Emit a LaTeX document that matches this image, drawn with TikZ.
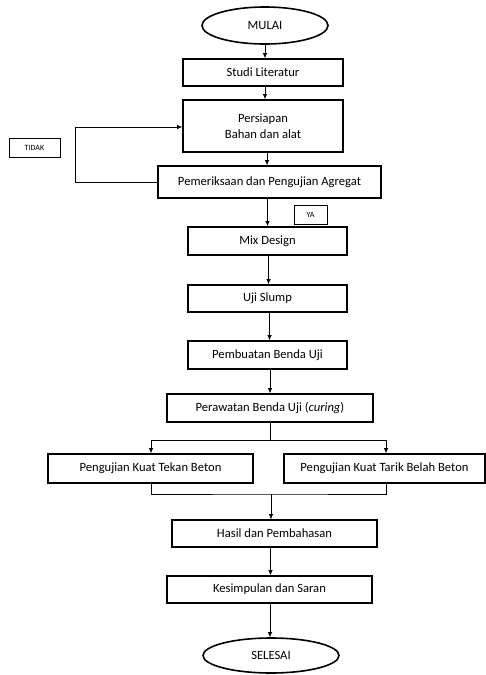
\documentclass[tikz,border=0pt]{standalone}
\usepackage{fontspec}
\setmainfont{Carlito}
\usetikzlibrary{arrows.meta,shapes.geometric}
\begin{document}
\begin{tikzpicture}[x=1pt,y=-1pt,
  box/.style={draw,line width=1.6pt,minimum height=27pt,inner sep=0pt,font=\fontsize{12.6}{14}\selectfont,align=center},
  term/.style={draw,ellipse,line width=1.6pt,inner sep=0pt,font=\fontsize{12.6}{14}\selectfont},
  tag/.style={draw,line width=0.6pt,inner sep=0pt,font=\fontsize{8}{9}\selectfont},
  conn/.style={line width=0.7pt},
  arr/.style={conn,-{Latex[length=5pt,width=4.5pt]}}]
\useasboundingbox (0,0) rectangle (486,675);
\node[term,minimum width=126pt,minimum height=37pt] (mulai) at (265,25.5) {MULAI};
\node[box,minimum width=160pt] (studi) at (263,72.5) {Studi Literatur};
\node[box,minimum width=160pt,minimum height=52pt] (persiapan) at (263,126) {Persiapan\\[2pt]Bahan dan alat};
\node[box,minimum width=223pt,minimum height=32pt] (periksa) at (269.5,182) {Pemeriksaan dan Pengujian Agregat};
\node[tag,minimum width=51pt,minimum height=19pt] (tidak) at (34.5,147.5) {TIDAK};
\node[tag,minimum width=33pt,minimum height=19pt] (ya) at (310.5,214.5) {YA};
\node[box,minimum width=159pt,minimum height=28pt] (mix) at (267.5,241) {Mix Design};
\node[box,minimum width=159pt] (slump) at (267.5,298.5) {Uji Slump};
\node[box,minimum width=159pt,minimum height=28pt] (buat) at (267.5,355) {Pembuatan Benda Uji};
\node[box,minimum width=206pt,minimum height=28pt] (rawat) at (270,408) {Perawatan Benda Uji (\textit{curing})};
\node[box,minimum width=205pt,minimum height=29pt] (tekan) at (150.5,468.5) {Pengujian Kuat Tekan Beton};
\node[box,minimum width=201pt,minimum height=29pt] (tarik) at (384.5,468.5) {Pengujian Kuat Tarik Belah Beton};
\node[box,minimum width=205pt] (hasil) at (274.5,533.5) {Hasil dan Pembahasan};
\node[box,minimum width=205pt] (simpul) at (269.5,589.5) {Kesimpulan dan Saran};
\node[term,minimum width=136pt,minimum height=35pt] (selesai) at (271,655.5) {SELESAI};
\coordinate (br) at (270,440);
\coordinate (mg) at (271,494);
\draw[arr] (mulai.south) -- (mulai.south |- studi.north);
\draw[arr] (mulai.south |- studi.south) -- (mulai.south |- persiapan.north);
\draw[arr] ([xshift=4pt]persiapan.south) -- ([xshift=4pt]persiapan.south |- periksa.north);
\draw[arr] (periksa.west) -- ++(-82,0) |- ([yshift=-1pt]persiapan.west);
\draw[arr] (mix.north |- periksa.south) -- (mix.north);
\draw[arr] ([xshift=1pt]mix.south) -- ([xshift=1pt]slump.north);
\draw[arr] ([xshift=2pt]slump.south) -- ([xshift=2pt]buat.north);
\draw[arr] (rawat.north |- buat.south) -- (rawat.north);
\draw[conn] (rawat.south) -- (br);
\draw[arr] (br) -| ([xshift=0.5pt]tekan.north);
\draw[arr] (br) -| ([xshift=1.5pt]tarik.north);
\draw[conn] ([xshift=0.5pt]tekan.south) |- (mg) -| ([xshift=1.5pt]tarik.south);
\draw[arr] (mg) -- (mg |- hasil.north);
\draw[arr] ([xshift=-4pt]hasil.south) -- ([xshift=-4pt]hasil.south |- simpul.north);
\draw[arr] ([xshift=0.5pt]simpul.south) -- ([xshift=0.5pt]simpul.south |- selesai.north);
\end{tikzpicture}
\end{document}
